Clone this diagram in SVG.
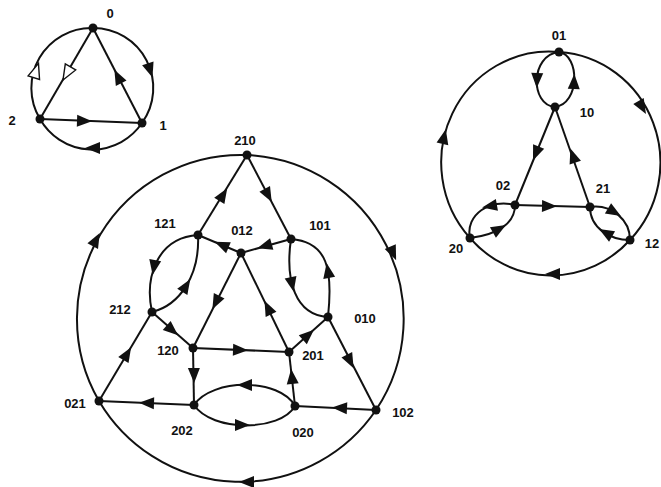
<svg xmlns="http://www.w3.org/2000/svg" xmlns:xlink="http://www.w3.org/1999/xlink" width="661" height="487" viewBox="0 0 661 487">
<style>
.e{fill:none;stroke:#111;stroke-width:2}
.ar{fill:#111}
.hol{fill:#fff;stroke:#111;stroke-width:1.4}
.n{fill:#111}
.t{font-family:"Liberation Sans",Arial,sans-serif;font-size:13px;font-weight:bold;fill:#111;text-anchor:middle}
</style>
<defs>
<path id="a" d="M8,0 L-7,-6 L-7,6 Z"/>
</defs>
<rect width="661" height="487" fill="#fff"/>
<g id="connectors">
<!-- small graph -->
<path class="e" d="M93,28 A60,60 0 0 1 142,123"/>
<path class="e" d="M142,123 A60,60 0 0 1 40,119"/>
<path class="e" d="M40,119 A60,60 0 0 1 93,28"/>
<path class="e" d="M93,28 L40,119"/>
<path class="e" d="M142,123 L93,28"/>
<path class="e" d="M40,119 L142,123"/>
<use href="#a" class="ar" transform="translate(150 70) rotate(72)"/>
<use href="#a" class="ar" transform="translate(93 148) rotate(180)"/>
<use href="#a" class="hol" transform="translate(36 71) rotate(-72)"/>
<use href="#a" class="hol" transform="translate(67 73) rotate(120)"/>
<use href="#a" class="ar" transform="translate(118 77) rotate(-117)"/>
<use href="#a" class="ar" transform="translate(84 121) rotate(2)"/>
<!-- right graph -->
<path class="e" d="M559,52 A108,111 0 0 1 630,240"/>
<path class="e" d="M630,240 A108,111 0 0 1 470,238"/>
<path class="e" d="M470,238 A108,111 0 0 1 559,52"/>
<path class="e" d="M559,52 C530,55 530,105 555,107"/>
<path class="e" d="M555,107 C580,104 580,55 559,52"/>
<path class="e" d="M555,107 L515,205"/>
<path class="e" d="M590,207 L555,107"/>
<path class="e" d="M515,205 L590,207"/>
<path class="e" d="M515,205 C490,198 465,215 470,238"/>
<path class="e" d="M470,238 C495,235 515,225 515,205"/>
<path class="e" d="M590,207 C612,204 630,220 630,240"/>
<path class="e" d="M630,240 C610,240 590,228 590,207"/>
<use href="#a" class="ar" transform="translate(642 107) rotate(60)"/>
<use href="#a" class="ar" transform="translate(553 274) rotate(180)"/>
<use href="#a" class="ar" transform="translate(444 137) rotate(-77)"/>
<use href="#a" class="ar" transform="translate(537 80) rotate(92)"/>
<use href="#a" class="ar" transform="translate(574 82) rotate(-88)"/>
<use href="#a" class="ar" transform="translate(536 153) rotate(112)"/>
<use href="#a" class="ar" transform="translate(573 156) rotate(-109)"/>
<use href="#a" class="ar" transform="translate(549 206) rotate(1)"/>
<use href="#a" class="ar" transform="translate(490 206) rotate(170)"/>
<use href="#a" class="ar" transform="translate(499 229) rotate(-30)"/>
<use href="#a" class="ar" transform="translate(614 212) rotate(31)"/>
<use href="#a" class="ar" transform="translate(606 233) rotate(-150)"/>
<!-- main graph -->
<path class="e" d="M247,155 A164,164 0 0 1 376,410"/>
<path class="e" d="M376,410 A164,164 0 0 1 99,401"/>
<path class="e" d="M99,401 A164,164 0 0 1 247,155"/>
<path class="e" d="M198,235 L247,155"/>
<path class="e" d="M247,155 L291,239"/>
<path class="e" d="M291,239 L241,253"/>
<path class="e" d="M241,253 L198,235"/>
<path class="e" d="M241,253 L193,348"/>
<path class="e" d="M289,352 L241,253"/>
<path class="e" d="M152,312 L193,348"/>
<path class="e" d="M99,401 L152,312"/>
<path class="e" d="M193,348 L289,352"/>
<path class="e" d="M289,352 L328,317"/>
<path class="e" d="M328,317 L376,410"/>
<path class="e" d="M193,348 L194,405"/>
<path class="e" d="M295,406 L289,352"/>
<path class="e" d="M194,405 L99,401"/>
<path class="e" d="M376,410 L295,406"/>
<path class="e" d="M198,235 C155,238 145,280 152,312"/>
<path class="e" d="M152,312 C180,305 200,275 198,235"/>
<path class="e" d="M291,239 C285,280 295,315 328,317"/>
<path class="e" d="M328,317 C333,270 328,242 291,239"/>
<path class="e" d="M194,405 C212,378 280,378 295,406"/>
<path class="e" d="M194,405 C212,432 280,432 295,406"/>
<use href="#a" class="ar" transform="translate(393 253) rotate(67)"/>
<use href="#a" class="ar" transform="translate(247 482) rotate(180)"/>
<use href="#a" class="ar" transform="translate(96 240) rotate(-62)"/>
<use href="#a" class="ar" transform="translate(223 195) rotate(-58)"/>
<use href="#a" class="ar" transform="translate(268 195) rotate(62)"/>
<use href="#a" class="ar" transform="translate(265 246) rotate(164)"/>
<use href="#a" class="ar" transform="translate(222 245) rotate(-157)"/>
<use href="#a" class="ar" transform="translate(216 302) rotate(117)"/>
<use href="#a" class="ar" transform="translate(268 308) rotate(-116)"/>
<use href="#a" class="ar" transform="translate(172 330) rotate(41)"/>
<use href="#a" class="ar" transform="translate(127 354) rotate(-59)"/>
<use href="#a" class="ar" transform="translate(240 350) rotate(2)"/>
<use href="#a" class="ar" transform="translate(308 335) rotate(-42)"/>
<use href="#a" class="ar" transform="translate(350 361) rotate(63)"/>
<use href="#a" class="ar" transform="translate(194 375) rotate(89)"/>
<use href="#a" class="ar" transform="translate(292 377) rotate(-96)"/>
<use href="#a" class="ar" transform="translate(147 403) rotate(182)"/>
<use href="#a" class="ar" transform="translate(340 408) rotate(183)"/>
<use href="#a" class="ar" transform="translate(154 267) rotate(100)"/>
<use href="#a" class="ar" transform="translate(186 286) rotate(-58)"/>
<use href="#a" class="ar" transform="translate(292 284) rotate(78)"/>
<use href="#a" class="ar" transform="translate(328 271) rotate(-100)"/>
<use href="#a" class="ar" transform="translate(245 385) rotate(180)"/>
<use href="#a" class="ar" transform="translate(242 425) rotate(0)"/>
</g>
<g id="n0"><circle class="n" cx="93" cy="28" r="4.5"/><text class="t" x="110" y="18">0</text></g>
<g id="n1"><circle class="n" cx="142" cy="123" r="4.5"/><text class="t" x="163" y="130">1</text></g>
<g id="n2"><circle class="n" cx="40" cy="119" r="4.5"/><text class="t" x="12" y="125">2</text></g>
<g id="n01"><circle class="n" cx="559" cy="52" r="4.5"/><text class="t" x="559" y="40">01</text></g>
<g id="n10"><circle class="n" cx="555" cy="107" r="4.5"/><text class="t" x="587" y="117">10</text></g>
<g id="n02"><circle class="n" cx="515" cy="205" r="4.5"/><text class="t" x="503" y="190">02</text></g>
<g id="n21"><circle class="n" cx="590" cy="207" r="4.5"/><text class="t" x="603" y="193">21</text></g>
<g id="n20"><circle class="n" cx="470" cy="238" r="4.5"/><text class="t" x="456" y="253">20</text></g>
<g id="n12"><circle class="n" cx="630" cy="240" r="4.5"/><text class="t" x="652" y="248">12</text></g>
<g id="n210"><circle class="n" cx="247" cy="155" r="4.5"/><text class="t" x="245" y="145">210</text></g>
<g id="n121"><circle class="n" cx="198" cy="235" r="4.5"/><text class="t" x="165" y="228">121</text></g>
<g id="n012"><circle class="n" cx="241" cy="253" r="4.5"/><text class="t" x="242" y="235">012</text></g>
<g id="n101"><circle class="n" cx="291" cy="239" r="4.5"/><text class="t" x="320" y="230">101</text></g>
<g id="n212"><circle class="n" cx="152" cy="312" r="4.5"/><text class="t" x="120" y="314">212</text></g>
<g id="n010"><circle class="n" cx="328" cy="317" r="4.5"/><text class="t" x="365" y="323">010</text></g>
<g id="n120"><circle class="n" cx="193" cy="348" r="4.5"/><text class="t" x="168" y="355">120</text></g>
<g id="n201"><circle class="n" cx="289" cy="352" r="4.5"/><text class="t" x="313" y="360">201</text></g>
<g id="n021"><circle class="n" cx="99" cy="401" r="4.5"/><text class="t" x="75" y="408">021</text></g>
<g id="n202"><circle class="n" cx="194" cy="405" r="4.5"/><text class="t" x="182" y="435">202</text></g>
<g id="n020"><circle class="n" cx="295" cy="406" r="4.5"/><text class="t" x="303" y="437">020</text></g>
<g id="n102"><circle class="n" cx="376" cy="410" r="4.5"/><text class="t" x="403" y="417">102</text></g>
</svg>
